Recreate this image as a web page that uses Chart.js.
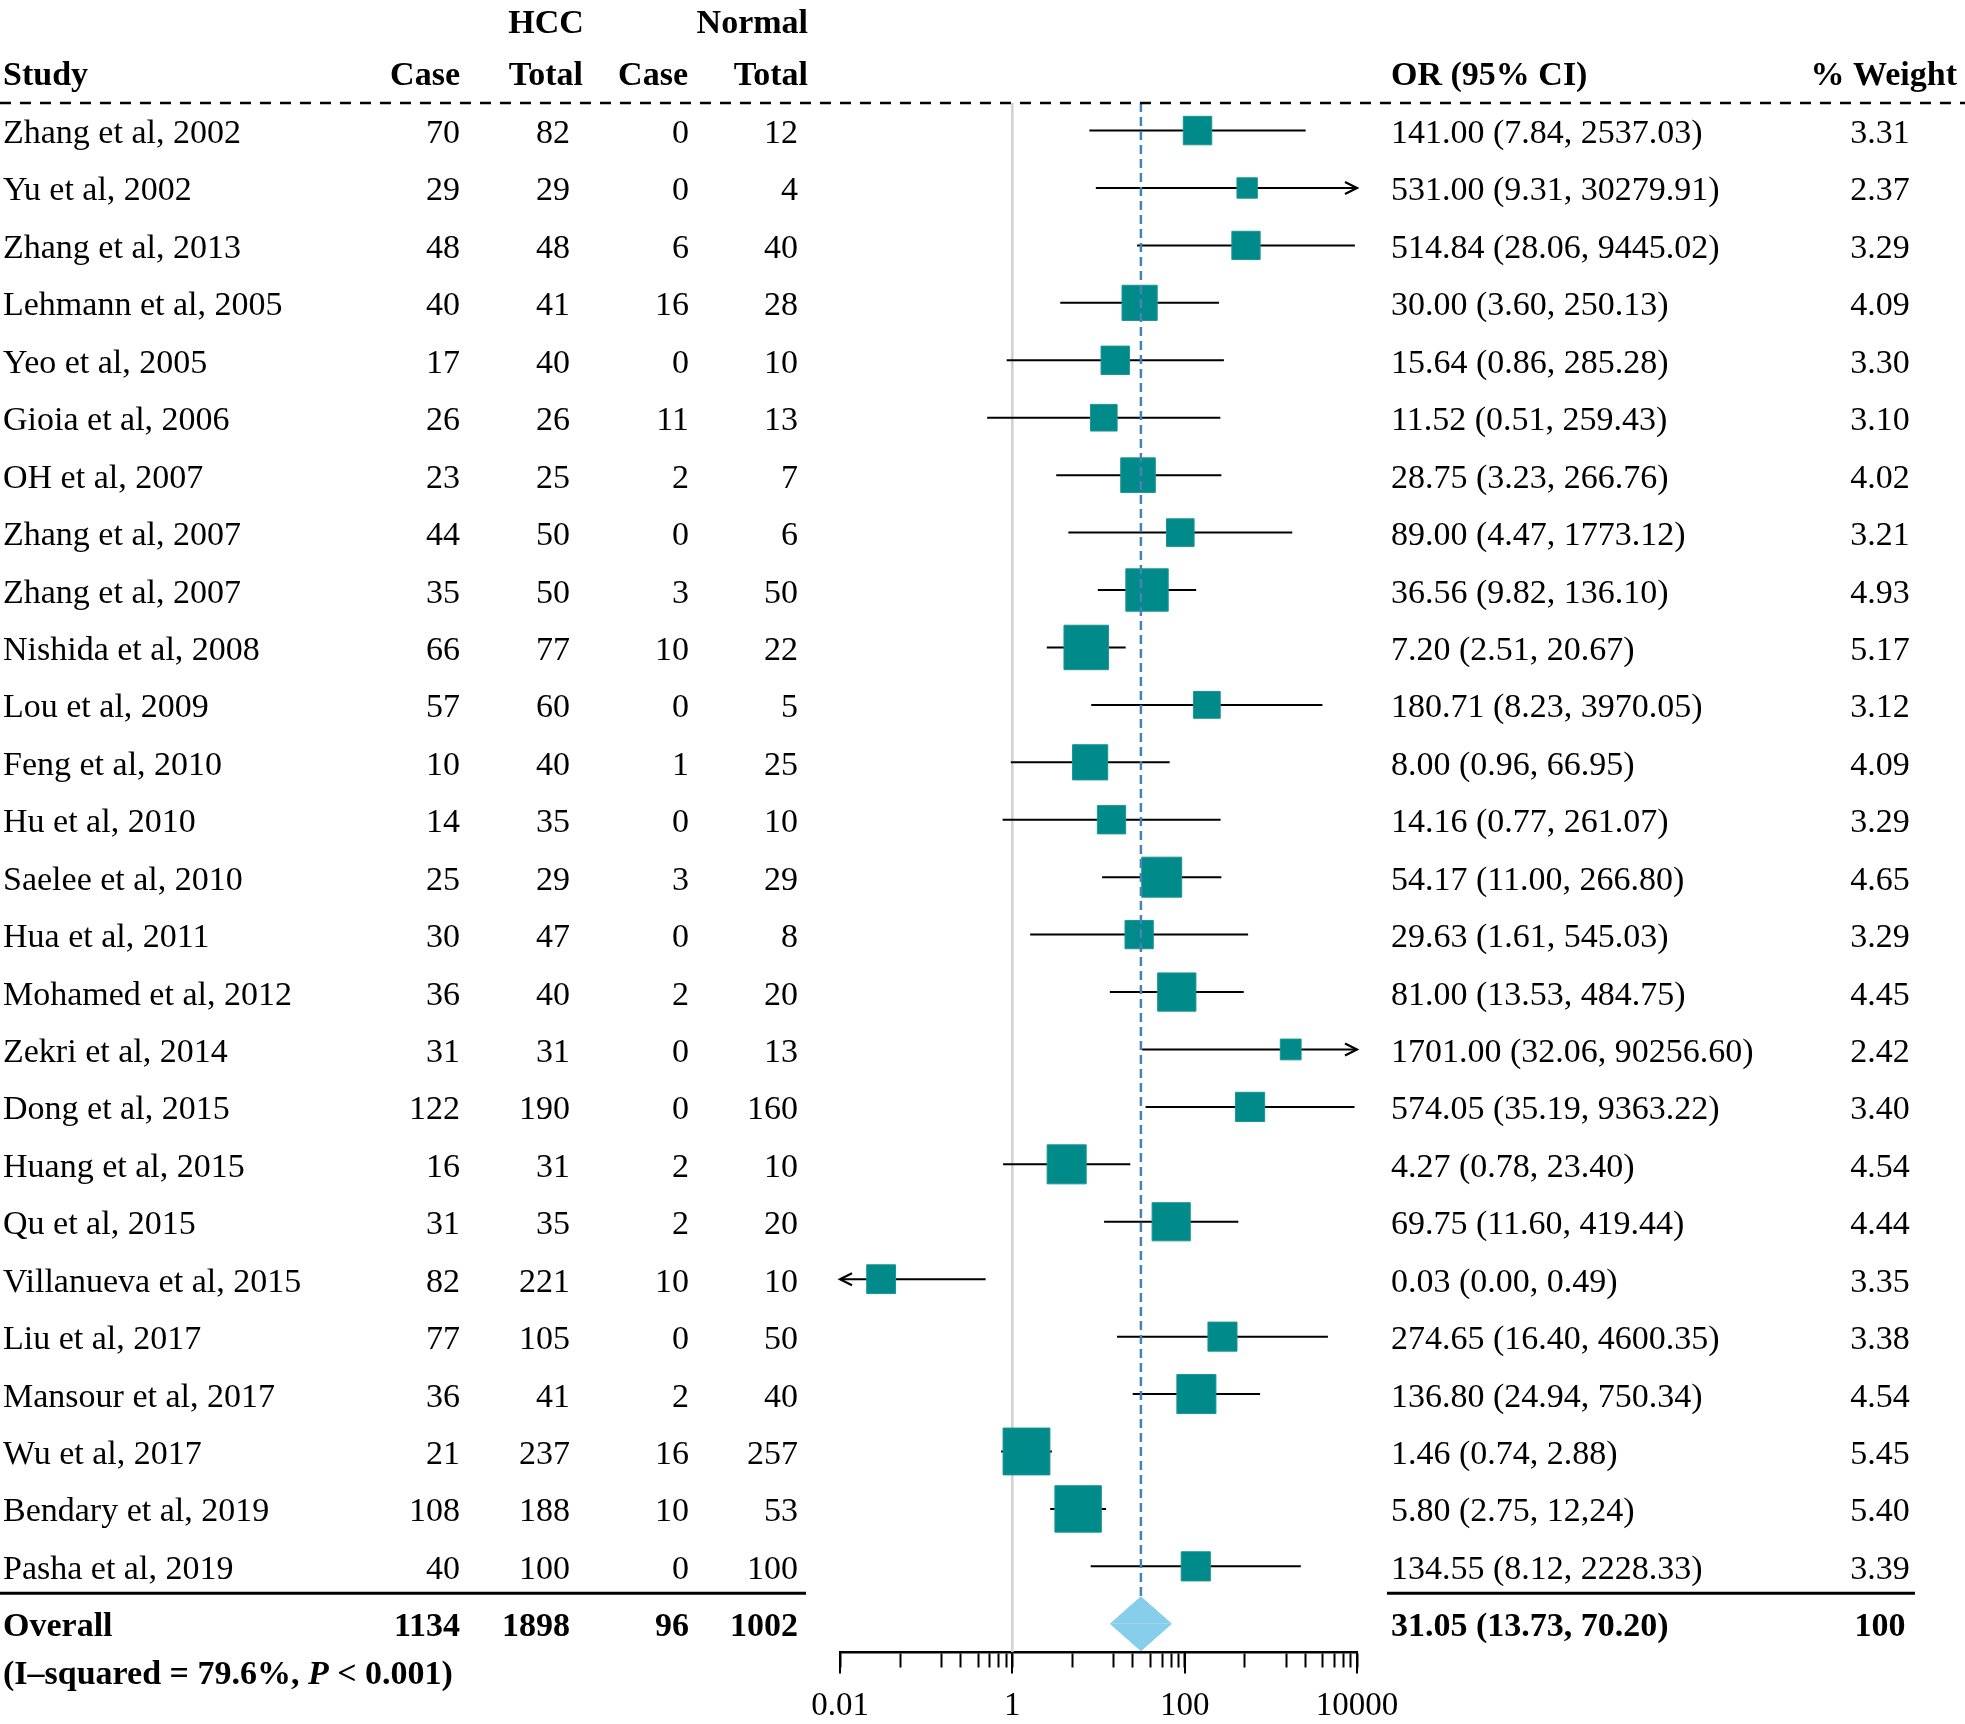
<!DOCTYPE html>
<html>
<head>
<meta charset="utf-8">
<script src="https://cdn.jsdelivr.net/npm/chart.js@4.4.0/dist/chart.umd.min.js"></script>
<style>
  html, body { margin: 0; padding: 0; background: #fff; }
  #wrap { width: 1965px; height: 1724px; position: relative; }
</style>
</head>
<body>
<div id="wrap"><canvas id="forest"></canvas></div>
<script>
// study level data
const studies = [
  "Zhang et al, 2002", "Yu et al, 2002", "Zhang et al, 2013", "Lehmann et al, 2005",
  "Yeo et al, 2005", "Gioia et al, 2006", "OH et al, 2007", "Zhang et al, 2007",
  "Zhang et al, 2007", "Nishida et al, 2008", "Lou et al, 2009", "Feng et al, 2010",
  "Hu et al, 2010", "Saelee et al, 2010", "Hua et al, 2011", "Mohamed et al, 2012",
  "Zekri et al, 2014", "Dong et al, 2015", "Huang et al, 2015", "Qu et al, 2015",
  "Villanueva et al, 2015", "Liu et al, 2017", "Mansour et al, 2017", "Wu et al, 2017",
  "Bendary et al, 2019", "Pasha et al, 2019"
];
const hccCase   = [70, 29, 48, 40, 17, 26, 23, 44, 35, 66, 57, 10, 14, 25, 30, 36, 31, 122, 16, 31, 82, 77, 36, 21, 108, 40];
const hccTotal  = [82, 29, 48, 41, 40, 26, 25, 50, 50, 77, 60, 40, 35, 29, 47, 40, 31, 190, 31, 35, 221, 105, 41, 237, 188, 100];
const normCase  = [0, 0, 6, 16, 0, 11, 2, 0, 3, 10, 0, 1, 0, 3, 0, 2, 0, 0, 2, 2, 10, 0, 2, 16, 10, 0];
const normTotal = [12, 4, 40, 28, 10, 13, 7, 6, 50, 22, 5, 25, 10, 29, 8, 20, 13, 160, 10, 20, 10, 50, 40, 257, 53, 100];
const oddsRatio = [141.00, 531.00, 514.84, 30.00, 15.64, 11.52, 28.75, 89.00, 36.56, 7.20, 180.71, 8.00, 14.16, 54.17, 29.63, 81.00, 1701.00, 574.05, 4.27, 69.75, 0.03, 274.65, 136.80, 1.46, 5.80, 134.55];
const ciLow     = [7.84, 9.31, 28.06, 3.60, 0.86, 0.51, 3.23, 4.47, 9.82, 2.51, 8.23, 0.96, 0.77, 11.00, 1.61, 13.53, 32.06, 35.19, 0.78, 11.60, 0.00, 16.40, 24.94, 0.74, 2.75, 8.12];
const ciHigh    = [2537.03, 30279.91, 9445.02, 250.13, 285.28, 259.43, 266.76, 1773.12, 136.10, 20.67, 3970.05, 66.95, 261.07, 266.80, 545.03, 484.75, 90256.60, 9363.22, 23.40, 419.44, 0.49, 4600.35, 750.34, 2.88, 12.24, 2228.33];
const ciText = [
  "141.00 (7.84, 2537.03)", "531.00 (9.31, 30279.91)", "514.84 (28.06, 9445.02)", "30.00 (3.60, 250.13)",
  "15.64 (0.86, 285.28)", "11.52 (0.51, 259.43)", "28.75 (3.23, 266.76)", "89.00 (4.47, 1773.12)",
  "36.56 (9.82, 136.10)", "7.20 (2.51, 20.67)", "180.71 (8.23, 3970.05)", "8.00 (0.96, 66.95)",
  "14.16 (0.77, 261.07)", "54.17 (11.00, 266.80)", "29.63 (1.61, 545.03)", "81.00 (13.53, 484.75)",
  "1701.00 (32.06, 90256.60)", "574.05 (35.19, 9363.22)", "4.27 (0.78, 23.40)", "69.75 (11.60, 419.44)",
  "0.03 (0.00, 0.49)", "274.65 (16.40, 4600.35)", "136.80 (24.94, 750.34)", "1.46 (0.74, 2.88)",
  "5.80 (2.75, 12,24)", "134.55 (8.12, 2228.33)"
];
const weights = [3.31, 2.37, 3.29, 4.09, 3.30, 3.10, 4.02, 3.21, 4.93, 5.17, 3.12, 4.09, 3.29, 4.65, 3.29, 4.45, 2.42, 3.40, 4.54, 4.44, 3.35, 3.38, 4.54, 5.45, 5.40, 3.39];

// pooled result
const overallCounts = [1134, 1898, 96, 1002];
const overallOR = 31.05;
const overallLow = 13.73;
const overallHigh = 70.20;
const overallText = "31.05 (13.73, 70.20)";
const overallWeight = "100";

// axis ticks
const majorTicks = [0.01, 1, 100, 10000];
const minorTicks = [0.05, 0.15, 0.25, 0.4, 0.55, 0.7, 0.85, 5, 15, 25, 40, 55, 70, 85, 500, 1500, 2500, 4000, 5500, 7000, 8500];

const X_MIN = 0.01, X_MAX = 10000;
const Y_MIN = -0.48, Y_MAX = 26.5;
const rowOverall = studies.length;
const FONT = "'Liberation Serif', 'Times New Roman', serif";
const FS = 34;
const TEAL = '#008b8a';

// column anchors (px)
const COL = { study: 3, hccCase: 460, hccTotal: 570, normCase: 689, normTotal: 798, ci: 1391, weight: 1880 };

const ciSegments = [];
studies.forEach((s, i) => {
  ciSegments.push({ x: Math.max(ciLow[i], X_MIN), y: i });
  ciSegments.push({ x: Math.min(ciHigh[i], X_MAX), y: i });
  ciSegments.push({ x: null, y: null });
});

const tablePlugin = {
  id: 'table',
  afterDraw(chart) {
    const ctx = chart.ctx;
    const ys = chart.scales.y, xs = chart.scales.x, area = chart.chartArea;
    const W = chart.width;
    ctx.save();
    ctx.fillStyle = '#000';
    ctx.textBaseline = 'alphabetic';
    const txt = (s, x, y, align, bold, italic) => {
      ctx.font = (italic ? 'italic ' : '') + (bold ? 'bold ' : '') + FS + 'px ' + FONT;
      ctx.textAlign = align;
      ctx.fillText(s, x, y);
    };

    // headers
    txt('HCC', 546, 33, 'center', true);
    txt('Normal', 808, 33, 'right', true);
    txt('Study', COL.study, 85, 'left', true);
    txt('Case', 460, 85, 'right', true);
    txt('Total', 583, 85, 'right', true);
    txt('Case', 688, 85, 'right', true);
    txt('Total', 808, 85, 'right', true);
    txt('OR (95% CI)', COL.ci, 85, 'left', true);
    txt('% Weight', 1957, 85, 'right', true);

    // dashed rule under header
    ctx.strokeStyle = '#000';
    ctx.lineWidth = 2.5;
    ctx.setLineDash([11, 9]);
    ctx.beginPath();
    ctx.moveTo(0, area.top);
    ctx.lineTo(W, area.top);
    ctx.stroke();
    ctx.setLineDash([]);

    // rows
    studies.forEach((s, i) => {
      const by = ys.getPixelForValue(i) + 12.5;
      txt(s, COL.study, by, 'left');
      txt(String(hccCase[i]), COL.hccCase, by, 'right');
      txt(String(hccTotal[i]), COL.hccTotal, by, 'right');
      txt(String(normCase[i]), COL.normCase, by, 'right');
      txt(String(normTotal[i]), COL.normTotal, by, 'right');
      txt(ciText[i], COL.ci, by, 'left');
      txt(weights[i].toFixed(2), COL.weight, by, 'center');
    });

    // solid rules above overall
    const ry = ys.getPixelForValue(rowOverall - 0.53);
    ctx.lineWidth = 3;
    ctx.beginPath();
    ctx.moveTo(0, ry); ctx.lineTo(806, ry);
    ctx.moveTo(1387, ry); ctx.lineTo(1915, ry);
    ctx.stroke();

    // overall row
    const oy = ys.getPixelForValue(rowOverall) + 12.5;
    txt('Overall', COL.study, oy, 'left', true);
    [COL.hccCase, COL.hccTotal, COL.normCase, COL.normTotal].forEach((cx, k) => {
      txt(String(overallCounts[k]), cx, oy, 'right', true);
    });
    txt(overallText, COL.ci, oy, 'left', true);
    txt(overallWeight, COL.weight, oy, 'center', true);

    // heterogeneity line
    const hy = 1684;
    let hx = COL.study;
    const parts = [['(I\u2013squared = 79.6%, ', false], ['P', true], [' < 0.001)', false]];
    parts.forEach(([s, it]) => {
      ctx.font = (it ? 'italic ' : '') + 'bold ' + FS + 'px ' + FONT;
      ctx.textAlign = 'left';
      ctx.fillText(s, hx, hy);
      hx += ctx.measureText(s).width;
    });

    // longer major ticks
    ctx.lineWidth = 2;
    majorTicks.forEach(v => {
      const px = Math.round(xs.getPixelForValue(v));
      ctx.beginPath();
      ctx.moveTo(px, area.bottom);
      ctx.lineTo(px, area.bottom + 21);
      ctx.stroke();
    });
    ctx.restore();
  },
  afterDatasetsDraw(chart) {
    // arrowheads for intervals running off the axis
    const ctx = chart.ctx, xs = chart.scales.x, ys = chart.scales.y;
    ctx.save();
    ctx.strokeStyle = '#000';
    ctx.lineWidth = 2.2;
    studies.forEach((s, i) => {
      const py = ys.getPixelForValue(i);
      if (ciHigh[i] > X_MAX) {
        const tip = xs.getPixelForValue(X_MAX);
        ctx.beginPath();
        ctx.moveTo(tip - 12, py - 6); ctx.lineTo(tip, py); ctx.lineTo(tip - 12, py + 6);
        ctx.stroke();
      }
      if (ciLow[i] < X_MIN) {
        const tip = xs.getPixelForValue(X_MIN);
        ctx.beginPath();
        ctx.moveTo(tip + 12, py - 6); ctx.lineTo(tip, py); ctx.lineTo(tip + 12, py + 6);
        ctx.stroke();
      }
    });
    ctx.restore();
  }
};

new Chart(document.getElementById('forest'), {
  type: 'scatter',
  data: {
    datasets: [
      { // pooled estimate reference
        type: 'line',
        data: [{ x: overallOR, y: Y_MIN }, { x: overallOR, y: rowOverall - 0.47 }],
        borderColor: '#4682b4', borderWidth: 2.5, borderDash: [9, 5],
        pointRadius: 0, showLine: true, fill: false
      },
      { // study estimates
        data: oddsRatio.map((v, i) => ({ x: v, y: i })),
        pointStyle: 'rect',
        pointRadius: c => weights[c.dataIndex] * 6.08,
        backgroundColor: TEAL, borderColor: '#1a9594', borderWidth: 1
      },
      { // confidence intervals
        type: 'line',
        data: ciSegments,
        borderColor: '#000', borderWidth: 2, pointRadius: 0,
        showLine: true, spanGaps: false, fill: false
      },
      { // diamond upper half
        type: 'line',
        data: [{ x: overallLow, y: rowOverall }, { x: overallOR, y: rowOverall - 0.47 }, { x: overallHigh, y: rowOverall }],
        borderColor: '#87ceeb', backgroundColor: '#87ceeb', borderWidth: 1,
        pointRadius: 0, showLine: true, fill: { value: rowOverall }
      },
      { // diamond lower half
        type: 'line',
        data: [{ x: overallLow, y: rowOverall }, { x: overallOR, y: rowOverall + 0.47 }, { x: overallHigh, y: rowOverall }],
        borderColor: '#87ceeb', backgroundColor: '#87ceeb', borderWidth: 1,
        pointRadius: 0, showLine: true, fill: { value: rowOverall }
      },
      { // line of no effect
        type: 'line',
        data: [{ x: 1, y: Y_MIN }, { x: 1, y: Y_MAX }],
        borderColor: '#d0d0d0', borderWidth: 2.5,
        pointRadius: 0, showLine: true, fill: false
      }
    ]
  },
  options: {
    responsive: true,
    maintainAspectRatio: false,
    animation: false,
    devicePixelRatio: 1,
    events: [],
    layout: { padding: { left: 840, right: 608, top: 103, bottom: 0 } },
    plugins: { legend: { display: false }, tooltip: { enabled: false } },
    scales: {
      x: {
        type: 'logarithmic',
        min: X_MIN, max: X_MAX,
        position: 'bottom',
        afterBuildTicks: s => {
          s.ticks = majorTicks.concat(minorTicks).sort((a, b) => a - b).map(v => ({ value: v }));
        },
        afterFit: s => { s.height = 71.5; },
        border: { display: true, color: '#000', width: 2.5 },
        grid: { drawOnChartArea: false, drawTicks: true, tickLength: 15, tickWidth: 2, tickColor: '#000' },
        ticks: {
          autoSkip: false, maxRotation: 0, padding: 19, color: '#000',
          font: { family: FONT, size: 33 },
          callback: v => majorTicks.includes(v) ? String(v) : ''
        }
      },
      y: { type: 'linear', reverse: true, min: Y_MIN, max: Y_MAX, display: false }
    }
  },
  plugins: [tablePlugin]
});
</script>
</body>
</html>
